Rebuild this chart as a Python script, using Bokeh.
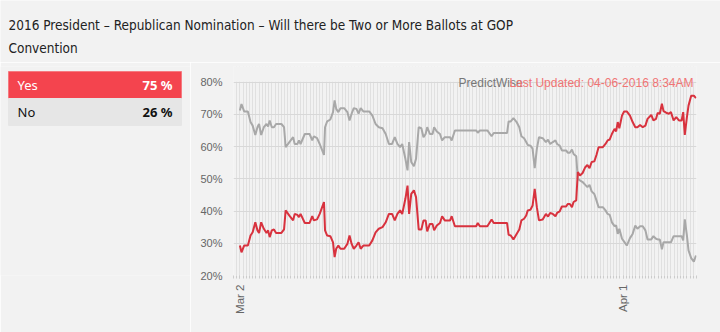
import math
from datetime import datetime, timedelta

from bokeh.plotting import figure
from bokeh.layouts import column, row
from bokeh.models import (Range1d, FixedTicker, PrintfTickFormatter,
                          CustomJSTickFormatter, Label, ColumnDataSource, BoxAnnotation)
from bokeh.core.properties import value
from bokeh.embed import file_html
from bokeh.resources import INLINE

# ---------------- data ----------------
title_lines = ["2016 President \u2013 Republican Nomination \u2013 Will there be Two or More Ballots at GOP",
               "Convention"]
outcomes = ["Yes", "No"]
current_pct = [75, 26]
source_name = "PredictWise"
updated_text = "Last Updated: 04-06-2016 8:34AM"

# hours since 2016-03-02 00:00
hours_since_mar2 = [
    0, 3, 8, 15, 20, 24, 29, 33, 36, 40, 45, 50, 53, 56, 60, 64, 68, 78, 83, 86,
    93, 100, 103, 108, 111, 114, 122, 131, 136, 139, 145, 150, 158, 160, 164, 170, 175, 178, 181, 185,
    189, 196, 202, 206, 210,
    214, 219, 223, 227, 232, 243, 249, 255, 261, 268, 274, 280, 286, 291, 296, 301, 305, 311, 315, 318,
    322, 327, 331, 336, 341, 345, 349, 352, 357, 362, 365, 370, 376, 380, 385, 395, 398, 404,
    444, 447, 451, 465, 473, 477, 502, 505, 509, 514, 520, 525, 529, 534, 538, 541, 546, 550, 554, 558,
    562, 569, 575, 579, 583, 588, 593, 596, 601, 605, 613, 616, 620, 624, 627, 632, 635, 639, 644,
    649, 653, 657, 661, 666, 670, 674, 682, 687, 691, 695, 699, 704, 707, 710, 713, 718, 722, 727, 733,
    738, 743, 747, 752, 757, 762, 766, 773, 777, 782, 785, 789, 793, 796, 801, 806, 810, 815, 820, 825,
    830, 833, 836, 840, 843, 848, 853, 857,
]

yes_pct = [
    29.3, 27.2, 29.3, 29.3, 32.4, 33.4, 36.5, 34, 33.2, 36.5, 34.5, 33.2, 34, 31.9, 34, 34.3, 33.2, 33.2, 34.3, 40.2,
    38.6, 37.1, 39.1, 38.8, 38.1, 39.1, 36.3, 36.3, 38.4, 37.1, 37.4, 39.1, 42.8, 34, 32.4, 32.2, 30.3, 25.7, 28.3, 29.3,
    28.3, 28.3, 29.8, 32.4, 29.8,
    28.3, 29.3, 30.3, 28.3, 29.3, 29.3, 30.9, 33.4, 34.5, 35, 36.5, 39.1, 39.1, 37.1, 39.1, 40.2, 39.1, 43.8, 47.9, 39.1,
    45.3, 46.4, 44.3, 34.3, 34.3, 37.1, 37.1, 33.7, 36, 36, 34, 35.5, 36.3, 38.4, 37.1, 37.1, 38.4, 35.3,
    35.3, 36.3, 35.3, 35.3, 37.4, 36.3, 36.3, 32.6, 32.4, 31.2, 32.9, 34.3, 37.1, 37.6, 38.6, 40.2, 40.4, 41.7, 46.9, 41.2,
    37.1, 37.4, 39.1, 38.3, 39.4, 39.1, 38.4, 39.4, 39.9, 41.4, 41.4, 42.2, 42.2, 41.2, 42.8, 43.3, 52.1, 51, 51.8,
    53.6, 54.3, 53.3, 55.2, 55.4, 57.4, 59.8, 59.8, 60.8, 61.9, 62.2, 63.9, 65.5, 64.7, 67.6, 65.7, 69.6, 70.9, 70.9, 69.6,
    67.6, 66, 66, 66.7, 66, 66.5, 68.6, 69.8, 68.1, 68.6, 70.4, 70.2, 73.3, 71, 70.5, 70.2, 70.7, 68.1, 69.1, 68.1,
    68.1, 70.7, 63.6, 69.1, 72.7, 75.8, 75.8, 75,
]

no_pct = [
    71.2, 73.2, 70.9, 70.9, 67.6, 66.5, 63.6, 66, 67, 63.6, 66, 67, 66.2, 68.1, 66, 66, 67, 67, 66, 59.8,
    61.4, 62.9, 60.8, 60.8, 61.9, 60.8, 63.9, 63.9, 61.9, 63.2, 62.6, 60.8, 57.4, 66, 67.8, 68.4, 70.7, 74.3, 71.7, 70.7,
    71.9, 71.9, 70.7, 68.1, 70.2,
    71.9, 71.7, 70.2, 71.9, 70.9, 70.9, 69.6, 67, 66, 65.7, 63.9, 60.8, 60.8, 62.9, 60.8, 59.8, 60.8, 56.2, 52.6, 61.4,
    55.2, 53.9, 56.2, 66, 65.7, 62.9, 63.9, 66, 63.9, 63.9, 66, 64.7, 63.9, 61.9, 62.9, 62.9, 61.9, 65,
    65, 64.3, 65, 65, 63.2, 64.2, 64.2, 67.8, 67.8, 68.8, 67.6, 66, 63.2, 62.6, 61.4, 60.5, 60.3, 59.3, 53.3, 59.3,
    62.9, 62.6, 61.4, 62.1, 60.8, 61.4, 61.9, 60.8, 60.3, 58.8, 58.8, 58.1, 58.1, 59.1, 57.7, 57, 50, 49.5, 49.0,
    48.1, 47.4, 48.1, 46.1, 45.3, 43.3, 41.2, 41.2, 40.2, 39.1, 38.8, 36.5, 35.3, 35.5, 32.9, 34.5, 31.4, 30.5, 29.3, 31.6,
    32.9, 35.5, 34.5, 35.3, 35.3, 34, 31.2, 31.2, 32.2, 31.4, 31.2, 31.2, 28.1, 30.3, 30.3, 30.3, 30.3, 32.2, 32.2, 32.2,
    32.2, 30.9, 37.4, 32.4, 27.8, 25.4, 24.3, 26.2,
]

y_ticks = [20, 30, 40, 50, 60, 70, 80]

# ---------------- helpers ----------------
BG = "#f2f2f2"
FONT = "Liberation Sans"
TITLE_FONT = "DejaVu Sans Condensed"
base = datetime(2016, 3, 2)
epoch = datetime(1970, 1, 1)

TOP_H = 62          # title strip height
ROW_H = 270         # chart row height
B_TOP, B_BOT = 4, 57  # borders of the chart row (frames in a row are aligned)


def ms(dt):
    return (dt - epoch).total_seconds() * 1000.0


times = [base + timedelta(hours=h) for h in hours_since_mar2]
x_start = base - timedelta(hours=12)
x_end = base + timedelta(hours=858)
major_ticks = [ms(datetime(2016, 3, 2)), ms(datetime(2016, 4, 1))]
grid_ticks = [ms(x_start + timedelta(hours=6 * i)) for i in range(0, 146)]

# ---------------- title ----------------
tf = figure(width=720, height=TOP_H, x_range=Range1d(0, 720), y_range=Range1d(TOP_H, 0),
            x_axis_location=None, y_axis_location=None,
            output_backend="svg", toolbar_location=None, min_border=0,
            background_fill_color=BG, border_fill_color=BG, outline_line_color=None)
tf.grid.visible = False
tf.text(x=[8, 8], y=[24, 47], text=title_lines, text_baseline="alphabetic",
        text_font=value(TITLE_FONT), text_font_size=value("13.5px"), text_color="#222222")

# ---------------- table (page-pixel coordinates inside the aligned frame) ----------------
frame_top = TOP_H + B_TOP
frame_bot = TOP_H + ROW_H - B_BOT
tb = figure(width=190, height=ROW_H, x_range=Range1d(0, 190), y_range=Range1d(frame_bot, frame_top),
            x_axis_location=None, y_axis_location=None,
            output_backend="svg", toolbar_location=None,
            min_border_left=0, min_border_right=0, min_border_top=B_TOP, min_border_bottom=B_BOT,
            background_fill_color=BG, border_fill_color=BG, outline_line_color=None)
tb.grid.visible = False
row_top = [71 + 27 * i for i in range(len(outcomes))]
tsrc = ColumnDataSource(dict(
    top=row_top, bottom=[t + 27 for t in row_top],
    fill=["#f4444e", "#e6e6e6"], line=["#f57a80", "#e6e6e6"],
    mid=[t + 13.5 for t in row_top], name=outcomes,
    pct=[f"{v} %" for v in current_pct], color=["#ffffff", "#111111"]))
tb.quad(left=8, right=181, top="top", bottom="bottom", fill_color="fill",
        line_color="line", source=tsrc)
tb.text(x=17, y="mid", text="name", text_color="color", text_baseline="middle",
        text_font=value("Noto Sans"), text_font_size="13px", source=tsrc)
tb.text(x=172, y="mid", text="pct", text_color="color", text_baseline="middle", text_align="right",
        text_font=value("Noto Sans"), text_font_size="13px", text_font_style="bold", source=tsrc)

# ---------------- chart ----------------
px_per_pct = 193.4 / 60.0
y_top = 20 + (ROW_H - B_TOP - B_BOT) / px_per_pct
p = figure(width=530, height=ROW_H, x_axis_type="datetime",
           x_range=Range1d(x_start, x_end), y_range=Range1d(20, y_top),
           output_backend="svg", toolbar_location=None,
           min_border_left=43, min_border_right=24, min_border_top=B_TOP, min_border_bottom=B_BOT,
           background_fill_color=BG, border_fill_color=BG, outline_line_color=None)

p.xgrid.ticker = FixedTicker(ticks=grid_ticks)
p.xgrid.grid_line_color = "#e0e0e0"
p.ygrid.ticker = FixedTicker(ticks=y_ticks)
p.ygrid.grid_line_color = "#d8d8d8"

xa = p.xaxis[0]
xa.ticker = FixedTicker(ticks=major_ticks, minor_ticks=grid_ticks)
xa.formatter = CustomJSTickFormatter(code="""
const m=['Jan','Feb','Mar','Apr','May','Jun','Jul','Aug','Sep','Oct','Nov','Dec'];
const d=new Date(tick); return m[d.getUTCMonth()]+' '+d.getUTCDate();""")
xa.major_label_orientation = math.pi / 2
xa.axis_line_color = None
xa.major_tick_line_color = "#cccccc"
xa.minor_tick_line_color = "#cccccc"
xa.major_tick_in = 0
xa.major_tick_out = 3
xa.minor_tick_in = 0
xa.minor_tick_out = 3
xa.major_label_standoff = 6
xa.major_label_text_font = FONT
xa.major_label_text_font_size = "11.5px"
xa.major_label_text_color = "#666666"

ya = p.yaxis[0]
ya.ticker = FixedTicker(ticks=y_ticks)
ya.formatter = PrintfTickFormatter(format="%d%%")
ya.axis_line_color = None
ya.major_tick_line_color = None
ya.minor_tick_line_color = None
ya.major_label_standoff = 5
ya.major_label_text_font = FONT
ya.major_label_text_font_size = "11px"
ya.major_label_text_color = "#666666"

p.line(times, no_pct, line_color="#a8a8a8", line_width=2)
p.line(times, yes_pct, line_color="#d8323e", line_width=2)

# hide the grid strip above the 80% line (space for the header texts)
p.add_layout(BoxAnnotation(bottom=80.08, fill_color=BG, fill_alpha=1.0, line_color=None))
p.add_layout(Label(x=base + timedelta(hours=411), y=79.6, text=source_name,
                   text_baseline="middle", text_align="left", text_font=FONT,
                   text_font_size="12px", text_color="#777777"))
p.add_layout(Label(x=x_end, y=79.6, x_offset=-3, text=updated_text,
                   text_baseline="middle", text_align="right", text_font=FONT,
                   text_font_size="12px", text_color="#f07474"))

layout = column(tf, row(tb, p))
open("out.html", "w").write(file_html(layout, INLINE))
